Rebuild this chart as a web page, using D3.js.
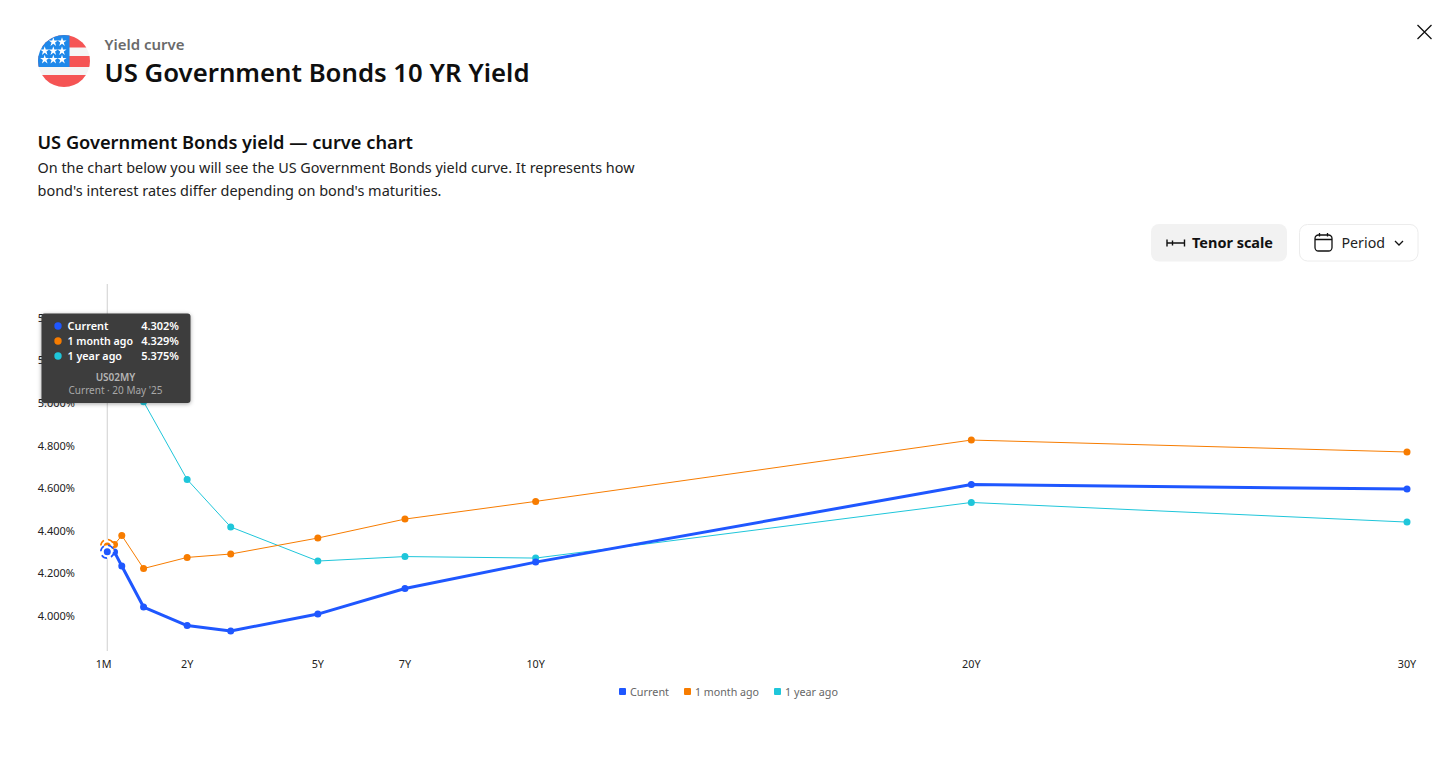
<!DOCTYPE html>
<html><head><meta charset="utf-8">
<script src="https://cdn.jsdelivr.net/npm/d3@7"></script>
<style>html,body{margin:0;padding:0;background:#fff;overflow:hidden}svg{display:block}text{font-family:"Noto Sans",sans-serif}</style>
</head><body><svg id="c" width="1456" height="758"></svg>
<script>
const tenors=[1/6,1/3,0.5,1,2,3,5,7,10,20,30];
const current=[4.302,4.30,4.235,4.042,3.955,3.93,4.009,4.129,4.253,4.617,4.596];
const monthAgo=[4.329,4.336,4.378,4.223,4.275,4.291,4.366,4.455,4.538,4.826,4.77];
const yearAgo=[5.375,5.38,5.33,5.006,4.641,4.418,4.258,4.279,4.272,4.533,4.441];
const seriesNames=["Current","1 month ago","1 year ago"];
const seriesColors=["#1f57ff","#f77c00","#1fc6da"];
const seriesWidths=[3,1,1];
const xTickValues=[1/12,2,5,7,10,20,30];
const xTickLabels=["1M","2Y","5Y","7Y","10Y","20Y","30Y"];
const yTickValues=[4,4.2,4.4,4.6,4.8,5,5.2,5.4];
const tooltipValues=["4.302%","4.329%","5.375%"];

const svg=d3.select("#c");
const x=d3.scaleLinear().domain([0,30]).range([100,1407]);
const y=d3.scaleLinear().domain([4,5]).range([616,403]);
function T(s,px,py,size,weight,fill,len,anchor){
  const t=svg.append("text").attr("x",px).attr("y",py).attr("font-size",size).attr("font-weight",weight).attr("fill",fill).attr("text-anchor",anchor||"start").text(s);
  if(len) t.attr("textLength",len).attr("lengthAdjust","spacingAndGlyphs");
  return t;
}
// flag
const defs=svg.append("defs");
defs.append("clipPath").attr("id","fc").append("circle").attr("cx",64).attr("cy",61).attr("r",26);
const f=svg.append("g").attr("clip-path","url(#fc)");
f.append("rect").attr("x",38).attr("y",35).attr("width",52).attr("height",52).attr("fill","#f5f5f5");
[[35,12.5],[56,11],[75,12]].forEach(r=>f.append("rect").attr("x",38).attr("y",r[0]).attr("width",52).attr("height",r[1]).attr("fill","#f55454"));
f.append("rect").attr("x",38).attr("y",35).attr("width",31.5).attr("height",32).attr("fill","#1e88ea");
const star=d3.symbol().type(d3.symbolStar).size(26);
[[53.3,42],[62,42],[44.7,51],[53.3,51],[62,51],[44.7,59.5],[53.3,59.5],[62,59.5]].forEach(p=>
  f.append("path").attr("d",star()).attr("transform",`translate(${p[0]},${p[1]})`).attr("fill","#fff"));

T("Yield curve",104.5,49.5,14,600,"#6a6a6a",80);
T("US Government Bonds 10 YR Yield",104.5,82,26,600,"#0f0f0f",425);
T("US Government Bonds yield — curve chart",37.5,149,18,600,"#0f0f0f",375.5);
T("On the chart below you will see the US Government Bonds yield curve. It represents how",37.5,173,15,400,"#222",597);
T("bond's interest rates differ depending on bond's maturities.",37.5,195.5,15,400,"#222",404);

// close
svg.append("path").attr("d","M1417.5,25L1431.5,39M1431.5,25L1417.5,39").attr("stroke","#111").attr("stroke-width",1.3).attr("fill","none");

// buttons
svg.append("rect").attr("x",1151).attr("y",224).attr("width",136).attr("height",37.5).attr("rx",8).attr("fill","#f2f2f2");
svg.append("path").attr("d","M1167,239.5V246.5M1184.5,239.5V246.5M1167,243H1184.5M1172.5,240.5V245.5").attr("stroke","#111").attr("stroke-width",1.4).attr("fill","none");
T("Tenor scale",1192,248,15,700,"#111",81);
svg.append("rect").attr("x",1299.5).attr("y",224.5).attr("width",118.5).attr("height",36.5).attr("rx",8).attr("fill","#fff").attr("stroke","#ececec");
svg.append("rect").attr("x",1315).attr("y",235).attr("width",17).attr("height",16).attr("rx",3.5).attr("fill","none").attr("stroke","#111").attr("stroke-width",1.3);
svg.append("path").attr("d","M1315,239.5H1332M1319.5,233V236.5M1327.5,233V236.5").attr("stroke","#111").attr("stroke-width",1.3).attr("fill","none");
T("Period",1341.5,248,15,400,"#222",43.5);
svg.append("path").attr("d","M1395,241L1399,245L1403,241").attr("stroke","#111").attr("stroke-width",1.3).attr("fill","none");

// axes
const ax=svg.append("g").attr("transform","translate(-0.5,651)").call(d3.axisBottom(x).tickValues(xTickValues).tickFormat((d,i)=>xTickLabels[i]).tickSize(0).tickPadding(9));
ax.select(".domain").remove();
ax.selectAll("text").attr("font-size",10.8).attr("fill","#222").style("font-family",'"Noto Sans",sans-serif');
const ay=svg.append("g").attr("transform","translate(75,0)").call(d3.axisLeft(y).tickValues(yTickValues).tickFormat(d=>d3.format(".3f")(d)+"%").tickSize(0).tickPadding(0));
ay.select(".domain").remove();
ay.selectAll("text").attr("font-size",11).attr("fill","#222").style("font-family",'"Noto Sans",sans-serif');

// crosshair
svg.append("line").attr("x1",x(tenors[0])).attr("x2",x(tenors[0])).attr("y1",284).attr("y2",651).attr("stroke","#cfcfcf");

// series (bottom to top)
const series=[yearAgo,monthAgo,current];
const order=[2,1,0];
const line=d3.line().x((d,i)=>x(tenors[i])).y(d=>y(d));
series.forEach((vals,k)=>{
  const c=seriesColors[order[k]];
  svg.append("path").datum(vals).attr("d",line).attr("fill","none").attr("stroke",c).attr("stroke-width",seriesWidths[order[k]]).attr("stroke-linejoin","round");
  svg.append("g").selectAll("circle").data(vals).join("circle").attr("cx",(d,i)=>x(tenors[i])).attr("cy",d=>y(d)).attr("r",3.5).attr("fill",c);
});
// crosshair markers
[monthAgo,current].forEach((vals,k)=>{
  const c=seriesColors[1-k];
  svg.append("circle").attr("cx",x(tenors[0])).attr("cy",y(vals[0])).attr("r",6.5).attr("fill","#fff").attr("stroke",c).attr("stroke-width",1.6).attr("stroke-dasharray","6 4.2");
  svg.append("circle").attr("cx",x(tenors[0])).attr("cy",y(vals[0])).attr("r",3.5).attr("fill",c);
});

// legend
const legX=[619,684,774];
const legLen=[39,64,53];
seriesNames.forEach((n,i)=>{
  svg.append("rect").attr("x",legX[i]).attr("y",688).attr("width",7).attr("height",7).attr("rx",1).attr("fill",seriesColors[i]);
  T(n,legX[i]+11,696,11,400,"#666",legLen[i]);
});

// tooltip
svg.append("rect").attr("x",41.5).attr("y",313.5).attr("width",149).attr("height",89.5).attr("rx",3).attr("fill","#3d3d3d").style("filter","drop-shadow(0 1px 2px rgba(0,0,0,.35))");
const tipLen=[41,65.5,54.5];
seriesNames.forEach((n,i)=>{
  const py=326+15*i;
  svg.append("circle").attr("cx",58).attr("cy",py).attr("r",3.7).attr("fill",seriesColors[i]);
  T(n,67.5,py+4,11,600,"#fff",tipLen[i]);
  T(tooltipValues[i],179,py+4,11,600,"#fff",null,"end");
});
T("US02MY",115.5,381,10,600,"#b5b5b5",null,"middle");
T("Current · 20 May '25",115.5,394,10,400,"#a8a8a8",null,"middle");
</script></body></html>
